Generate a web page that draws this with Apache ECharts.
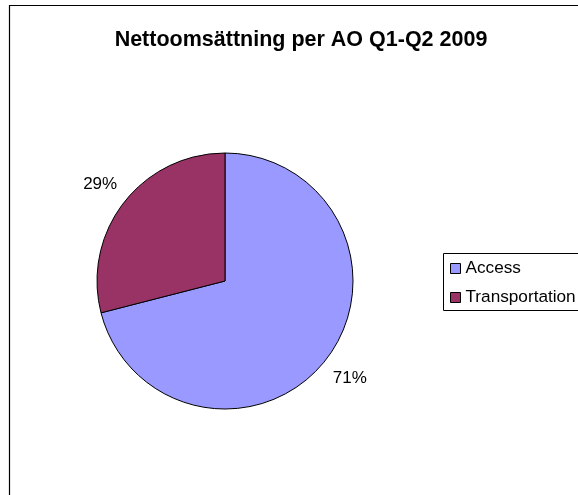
<!DOCTYPE html>
<html>
<head>
<meta charset="utf-8">
<script src="https://cdn.jsdelivr.net/npm/echarts@6/dist/echarts.min.js"></script>
<style>
html,body{margin:0;padding:0;background:#fff;overflow:hidden;}
#chart{width:578px;height:495px;}
</style>
</head>
<body>
<div id="chart"></div>
<script>
var titleText = 'Nettoomsättning per AO Q1-Q2 2009';
var categories = ['Access', 'Transportation'];
var shares = [71, 29];
var colors = ['#9999FF', '#993366'];

var chart = echarts.init(document.getElementById('chart'), null, {renderer: 'canvas'});
var FONT = '"Liberation Sans", Arial, sans-serif';

var mainData = categories.map(function (c, i) {
  return {name: c, value: shares[i], itemStyle: {color: colors[i]}};
});
var labelData = categories.map(function (c, i) {
  return {name: c, value: shares[i]};
});

chart.setOption({
  animation: false,
  backgroundColor: '#fff',
  title: {
    text: titleText,
    left: 301,
    textAlign: 'center',
    top: 29,
    padding: 0,
    textStyle: {fontFamily: FONT, fontWeight: 'bold', fontSize: 21.5, color: '#000'}
  },
  graphic: [{
    type: 'polyline',
    shape: {points: [[9.5, 900], [9.5, 5.5], [900, 5.5]]},
    style: {fill: null, stroke: '#000', lineWidth: 1.2},
    silent: true,
    z: -1
  }, {
    type: 'polyline',
    shape: {points: [[900, 253.5], [443.5, 253.5], [443.5, 310.5], [900, 310.5]]},
    style: {fill: null, stroke: '#000', lineWidth: 1},
    silent: true,
    z: 5
  }],
  legend: {
    orient: 'vertical',
    left: 443,
    top: 253,
    padding: [7, 0, 5, 7],
    itemGap: 12,
    itemWidth: 10,
    itemHeight: 10,
    icon: 'rect',
    borderWidth: 0,
    data: categories,
    itemStyle: {borderColor: '#000', borderWidth: 1},
    textStyle: {fontFamily: FONT, fontSize: 17.2, color: '#000', padding: [0, 0, 0, 0]}
  },
  series: [{
    type: 'pie',
    center: [225, 281],
    radius: [0, 128],
    startAngle: 90,
    clockwise: true,
    silent: true,
    label: {show: false},
    labelLine: {show: false},
    emphasis: {disabled: true},
    itemStyle: {borderColor: '#000', borderWidth: 1},
    data: mainData
  }, {
    type: 'pie',
    center: [225, 281],
    radius: [138, 172],
    startAngle: 90,
    clockwise: true,
    silent: true,
    percentPrecision: 0,
    legendHoverLink: false,
    emphasis: {disabled: true},
    itemStyle: {color: 'rgba(0,0,0,0)', borderWidth: 0},
    label: {
      show: true,
      position: 'inside',
      formatter: '{d}%',
      fontFamily: FONT,
      fontSize: 17,
      color: '#000'
    },
    labelLine: {show: false},
    data: labelData
  }]
});
</script>
</body>
</html>
